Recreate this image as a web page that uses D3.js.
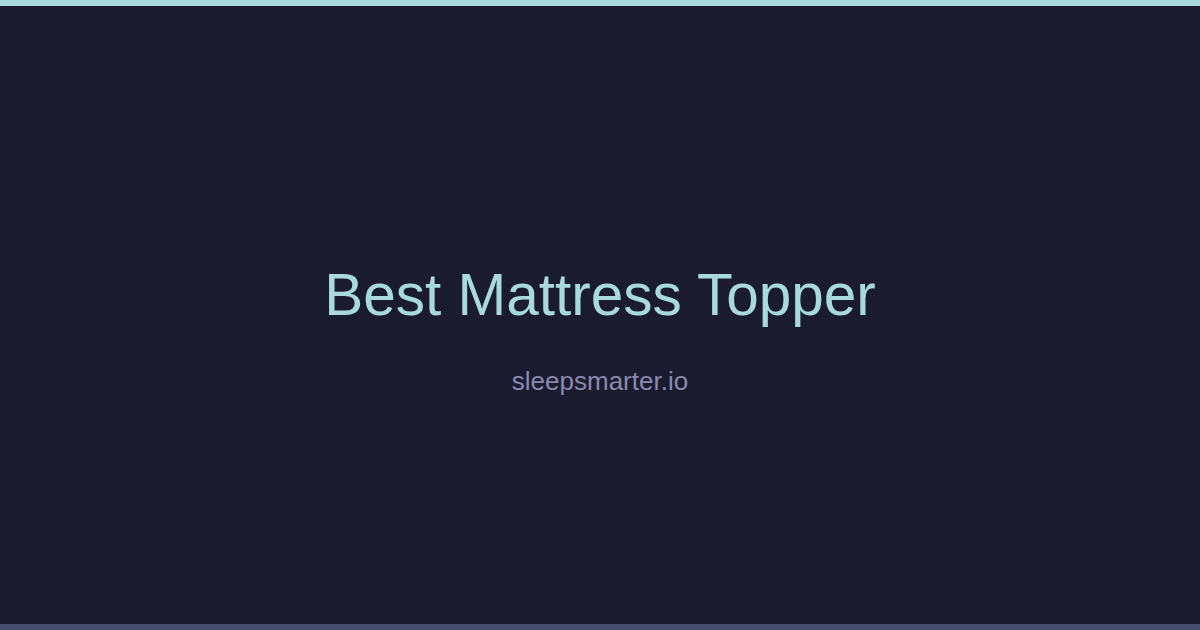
<!DOCTYPE html>
<html>
<head>
<meta charset="utf-8">
<script src="https://cdn.jsdelivr.net/npm/d3@7"></script>
<style>
	html, body { margin: 0; padding: 0; background: #1a1b2e; }
	svg { display: block; }
</style>
</head>
<body>
<script>
let size = { w: 1200, h: 630 };

// card content
let titles = ["Best Mattress Topper"];
let sites = ["sleepsmarter.io"];
let bands = ["top", "bottom"];

let svg = d3
	.select("body")
	.append("svg")
	.attr("width", size.w)
	.attr("height", size.h);

svg.append("rect")
	.attr("width", size.w)
	.attr("height", size.h)
	.attr("fill", "#1a1b2e");

// band scale for the two stripes
let bandY = d3.scaleOrdinal().domain(bands).range([0, size.h - 6]);
let bandColor = d3.scaleOrdinal().domain(bands).range(["#a8dadc", "#4a4e6e"]);

svg.selectAll("rect.band")
	.data(bands)
	.join("rect")
	.classed("band", true)
	.attr("x", 0)
	.attr("y", (d) => bandY(d))
	.attr("width", size.w)
	.attr("height", 6)
	.attr("fill", (d) => bandColor(d));

svg.selectAll("text.title")
	.data(titles)
	.join("text")
	.classed("title", true)
	.attr("x", size.w / 2)
	.attr("y", 315)
	.attr("text-anchor", "middle")
	.attr("font-family", "'Liberation Sans', Arial, sans-serif")
	.attr("font-size", 58.5)
	.attr("fill", "#a8dadc")
	.text((d) => d);

svg.selectAll("text.site")
	.data(sites)
	.join("text")
	.classed("site", true)
	.attr("x", size.w / 2)
	.attr("y", 390)
	.attr("text-anchor", "middle")
	.attr("font-family", "'Liberation Sans', Arial, sans-serif")
	.attr("font-size", 26)
	.attr("fill", "#8a8ab0")
	.text((d) => d);
</script>
</body>
</html>
